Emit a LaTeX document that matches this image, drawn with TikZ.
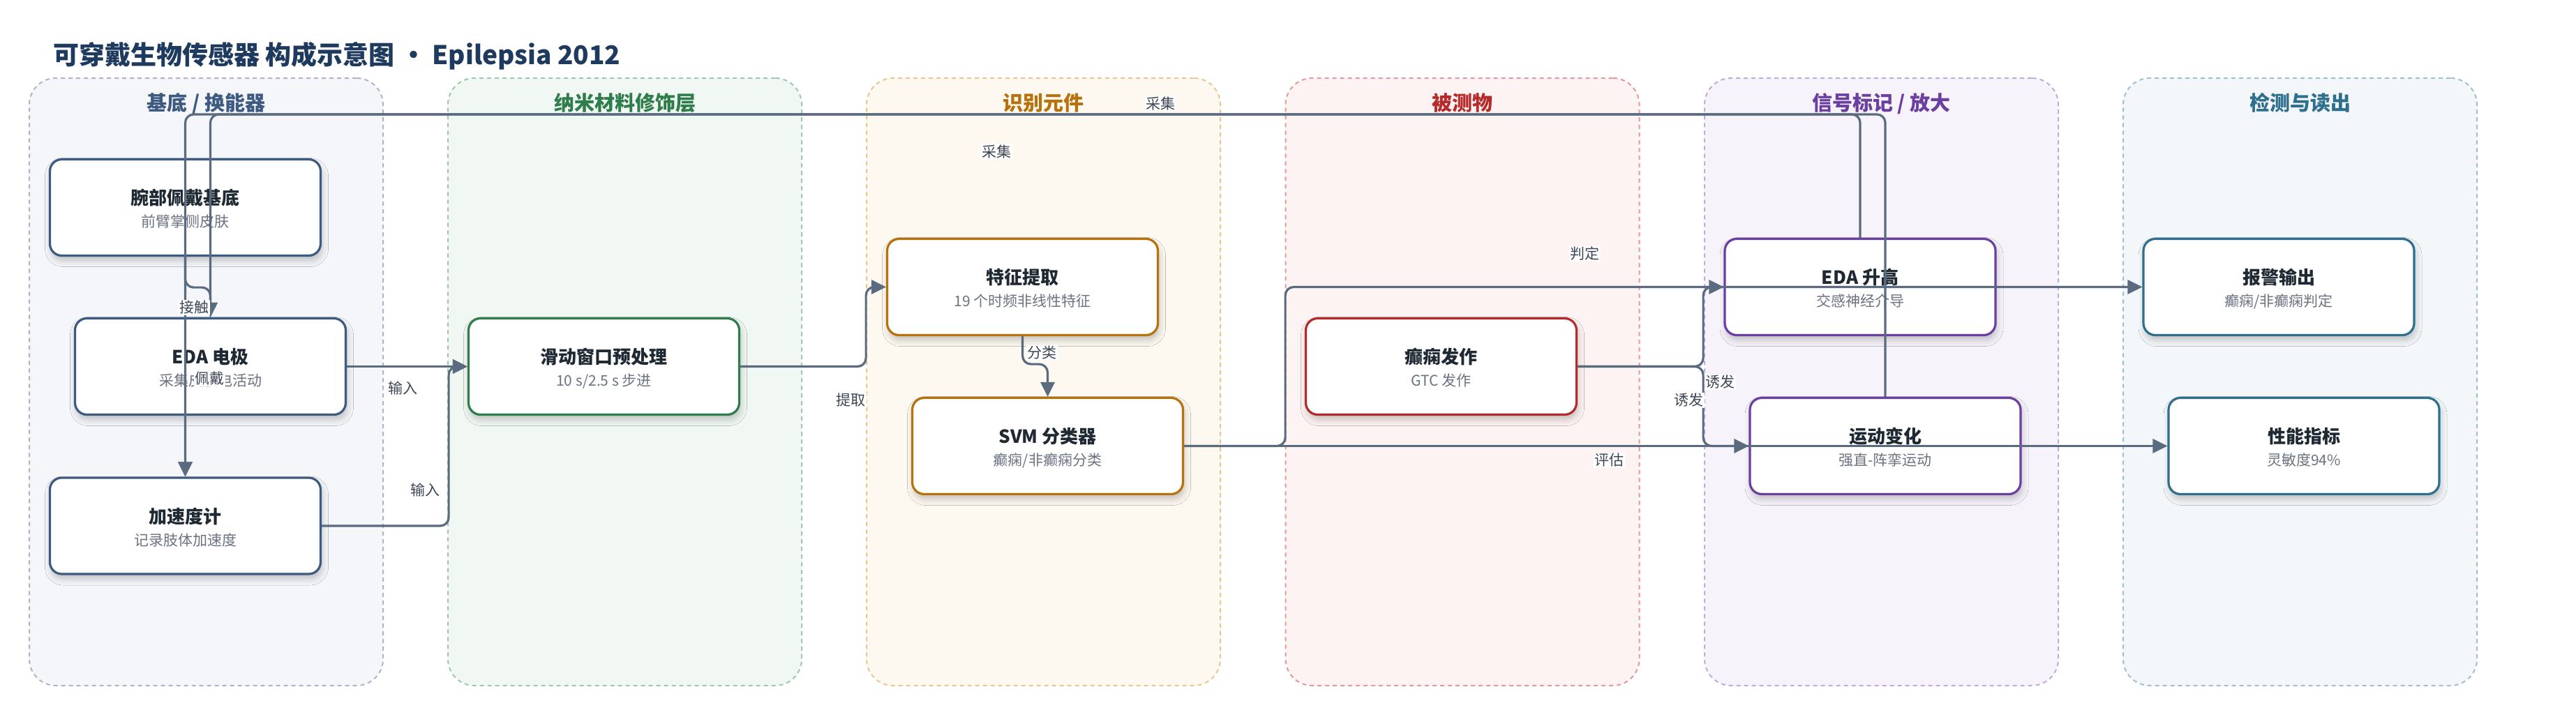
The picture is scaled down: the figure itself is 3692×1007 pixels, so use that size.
\documentclass[tikz,border=0pt]{standalone}
\usepackage{fontspec}
\setmainfont{Noto Sans CJK SC}
\usetikzlibrary{arrows.meta,shadows.blur,calc}

\definecolor{edgec}{HTML}{5A6B80}
\definecolor{titlec}{HTML}{1E3A5F}
\definecolor{cardt}{HTML}{1F2933}
\definecolor{cards}{HTML}{6B7280}
\definecolor{labc}{HTML}{3C4654}
% lane colours: t = title/border of cards, f = fill, d = dashed border
\definecolor{la-t}{HTML}{3D5A80}\definecolor{la-f}{HTML}{F4F6FA}\definecolor{la-d}{HTML}{AAB6CA}
\definecolor{lb-t}{HTML}{2E7D4B}\definecolor{lb-f}{HTML}{F1F8F4}\definecolor{lb-d}{HTML}{9CCAAB}
\definecolor{lc-t}{HTML}{B8720D}\definecolor{lc-f}{HTML}{FDF8F0}\definecolor{lc-d}{HTML}{E8C890}
\definecolor{ld-t}{HTML}{B52B2B}\definecolor{ld-f}{HTML}{FDF3F2}\definecolor{ld-d}{HTML}{E49A9A}
\definecolor{le-t}{HTML}{6B3FA0}\definecolor{le-f}{HTML}{F7F3FB}\definecolor{le-d}{HTML}{C4A8E0}
\definecolor{lf-t}{HTML}{2E6F8E}\definecolor{lf-f}{HTML}{F3F7F9}\definecolor{lf-d}{HTML}{9FC1CF}

\tikzset{
  lanebox/.style={draw, rounded corners=38pt, dash pattern=on 6pt off 5pt, line width=2pt,
    minimum width=507pt, minimum height=871pt, inner sep=0pt},
  lanetitle/.style={anchor=base, font=\fontsize{29}{32}\selectfont\bfseries, inner sep=0pt},
  card/.style={draw, rounded corners=17pt, fill=white, line width=3.2pt,
    minimum width=388pt, minimum height=138pt, inner sep=0pt,
    blur shadow={shadow xshift=2pt, shadow yshift=-7pt, shadow blur radius=9pt, shadow opacity=22}},
  cardtitle/.style={anchor=base, font=\fontsize{26}{30}\selectfont\bfseries, text=cardt, inner sep=0pt},
  cardsub/.style={anchor=base, font=\fontsize{21}{25}\selectfont, text=cards, inner sep=0pt},
  edge/.style={draw=edgec, line width=3.2pt, rounded corners=12pt,
    -{Triangle[length=21pt,width=20pt]}},
  elabel/.style={fill=white, text=labc, font=\fontsize{21}{24}\selectfont, inner sep=1.5pt},
}

\newcommand{\mycard}[6]{%
  \node[card, draw=#4] (#1) at (#2,#3) {};
  \node[cardtitle] (#1-t) at ($(#1.center)+(0,-4)$) {#5};
  \node[cardsub] (#1-s) at ($(#1.center)+(0,28)$) {#6};
}

\begin{document}
\begin{tikzpicture}[x=1pt,y=-1pt]
\useasboundingbox (0,0) rectangle (3692,1007);
\fill[white] (0,0) rectangle (3692,1007);

% title
\node[anchor=base west, inner sep=0pt, text=titlec, font=\fontsize{37}{42}\selectfont\bfseries]
  (title) at (76,92) {可穿戴生物传感器 构成示意图 · Epilepsia 2012};

% lanes
\node[lanebox, draw=la-d, fill=la-f] (lane1) at (295.5,547.5) {};
\node[lanebox, draw=lb-d, fill=lb-f] (lane2) at (895.5,547.5) {};
\node[lanebox, draw=lc-d, fill=lc-f] (lane3) at (1495.5,547.5) {};
\node[lanebox, draw=ld-d, fill=ld-f] (lane4) at (2096,547.5) {};
\node[lanebox, draw=le-d, fill=le-f] (lane5) at (2696.5,547.5) {};
\node[lanebox, draw=lf-d, fill=lf-f] (lane6) at (3296.5,547.5) {};

\node[lanetitle, text=la-t] (lane1-t) at (295.5,158) {基底 / 换能器};
\node[lanetitle, text=lb-t] (lane2-t) at (895.5,158) {纳米材料修饰层};
\node[lanetitle, text=lc-t] (lane3-t) at (1495.5,158) {识别元件};
\node[lanetitle, text=ld-t] (lane4-t) at (2096,158) {被测物};
\node[lanetitle, text=le-t] (lane5-t) at (2696.5,158) {信号标记 / 放大};
\node[lanetitle, text=lf-t] (lane6-t) at (3296.5,158) {检测与读出};

% cards
\mycard{wrist}{265.5}{297.5}{la-t}{腕部佩戴基底}{前臂掌侧皮肤}
\mycard{eda}{301.5}{525.5}{la-t}{EDA 电极}{采集皮肤电活动}
\mycard{acc}{265.5}{754}{la-t}{加速度计}{记录肢体加速度}
\mycard{win}{865.5}{525.5}{lb-t}{滑动窗口预处理}{10 s/2.5 s 步进}
\mycard{feat}{1465.5}{411.5}{lc-t}{特征提取}{19 个时频非线性特征}
\mycard{svm}{1501.5}{639.5}{lc-t}{SVM 分类器}{癫痫/非癫痫分类}
\mycard{seiz}{2065.5}{525.5}{ld-t}{癫痫发作}{GTC 发作}
\mycard{edaup}{2666}{411.5}{le-t}{EDA 升高}{交感神经介导}
\mycard{motion}{2702}{639.5}{le-t}{运动变化}{强直-阵挛运动}
\mycard{alarm}{3266}{411.5}{lf-t}{报警输出}{癫痫/非癫痫判定}
\mycard{perf}{3302}{639.5}{lf-t}{性能指标}{灵敏度94\%}

\coordinate (topA) at (0,164);

% connectors
\draw[edge] (motion.north) -- (motion.north |- topA) -| (acc.north);
\draw[edge] (edaup.north) -- (edaup.north |- topA) -| (eda.north);
\draw[edge] (wrist.south) -- ++(0,44) -| (eda.north);
\draw[edge] (wrist.south) -- (acc.north);
\draw[edge] (eda.east) -- (win.west);
\draw[edge] (acc.east) -- ++(182,0) |- (win.west);
\draw[edge] (win.east) -- ++(180,0) |- (feat.west);
\draw[edge] (feat.south) -- ++(0,40) -| (svm.north);
\draw[edge] (svm.east) -- ++(145,0) |- (alarm.west);
\draw[edge] (svm.east) -- (perf.west);
\draw[edge] (seiz.east) -- ++(180,0) |- (edaup.west);
\draw[edge] (seiz.east) -- ++(180,0) |- (motion.west);

% connector labels
\node[elabel] (l-jc) at (278,441) {接触};
\node[elabel] (l-pd) at (300,543) {佩戴};
\node[elabel] (l-cj1) at (1663,148) {采集};
\node[elabel] (l-cj2) at (1428,217) {采集};
\node[elabel] (l-sr1) at (577,556) {输入};
\node[elabel] (l-sr2) at (609,702) {输入};
\node[elabel] (l-tq) at (1219,574) {提取};
\node[elabel] (l-fl) at (1493,506) {分类};
\node[elabel] (l-pdg) at (2271,364) {判定};
\node[elabel] (l-yf1) at (2465,548) {诱发};
\node[elabel] (l-yf2) at (2420,574) {诱发};
\node[elabel] (l-pg) at (2306,660) {评估};
\end{tikzpicture}
\end{document}
